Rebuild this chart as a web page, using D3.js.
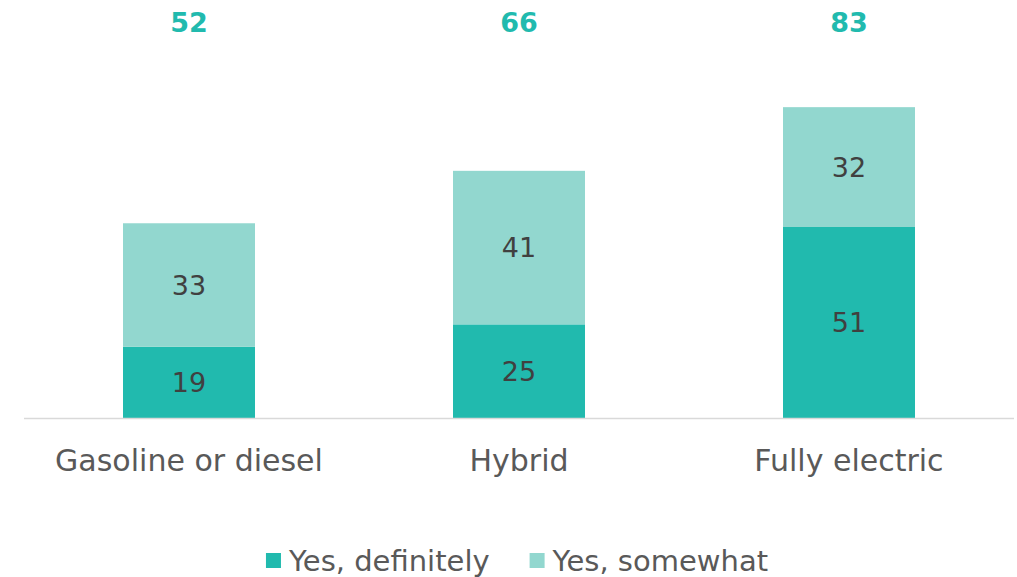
<!DOCTYPE html>
<html>
<head>
    <title>Stacked bars - D3.js</title>
    <script src="https://d3js.org/d3.v7.min.js"></script>
    <style>
        body { margin: 0; background: #fff; }
        .label-in { font-family: "DejaVu Sans", sans-serif; font-size: 27px; fill: #404040; text-anchor: middle; }
        .total { font-family: "DejaVu Sans", sans-serif; font-size: 27px; font-weight: bold; fill: #21baae; text-anchor: middle; }
        .cat { font-family: "DejaVu Sans", sans-serif; font-size: 30px; fill: #595959; text-anchor: middle; }
        .legend-text { font-family: "DejaVu Sans", sans-serif; font-size: 29px; fill: #595959; }
    </style>
</head>
<body>
<div id="chart"></div>
<script>
    // data
    const categories = ["Gasoline or diesel", "Hybrid", "Fully electric"];
    const seriesNames = ["Yes, definitely", "Yes, somewhat"];
    const definitely = [19, 25, 51];
    const somewhat = [33, 41, 32];
    const totals = [52, 66, 83];
    const colors = ["#21baae", "#92d7cf"];

    const W = 1017, H = 577;

    const svg = d3.select("#chart").append("svg")
        .attr("width", W)
        .attr("height", H);

    const x = d3.scaleBand()
        .domain(categories)
        .range([24, 1014])
        .paddingInner(0.6)
        .paddingOuter(0.3);

    const y = d3.scaleLinear()
        .domain([0, 100])
        .range([418, 43.5]);

    const rows = categories.map((c, i) => ({cat: c, "Yes, definitely": definitely[i], "Yes, somewhat": somewhat[i], total: totals[i]}));
    const stacked = d3.stack().keys(seriesNames)(rows);

    // bars
    const layers = svg.selectAll(".layer")
        .data(stacked)
        .enter().append("g")
        .attr("fill", (d, i) => colors[i]);

    layers.selectAll("rect")
        .data(d => d)
        .enter().append("rect")
        .attr("x", d => x(d.data.cat))
        .attr("y", d => y(d[1]))
        .attr("width", x.bandwidth())
        .attr("height", d => y(d[0]) - y(d[1]));

    layers.selectAll("text")
        .data(d => d)
        .enter().append("text")
        .attr("class", "label-in")
        .attr("x", d => x(d.data.cat) + x.bandwidth() / 2)
        .attr("y", d => (y(d[0]) + y(d[1])) / 2)
        .attr("dy", "0.36em")
        .text(d => d[1] - d[0]);

    // baseline
    svg.append("line")
        .attr("x1", 24).attr("x2", 1014)
        .attr("y1", y(0) + 0.5).attr("y2", y(0) + 0.5)
        .attr("stroke", "#d9d9d9")
        .attr("stroke-width", 1.5);

    // totals on top
    svg.selectAll(".total")
        .data(rows)
        .enter().append("text")
        .attr("class", "total")
        .attr("x", d => x(d.cat) + x.bandwidth() / 2)
        .attr("y", 22)
        .attr("dy", "0.36em")
        .text(d => d.total);

    // category labels
    svg.selectAll(".cat")
        .data(categories)
        .enter().append("text")
        .attr("class", "cat")
        .attr("x", d => x(d) + x.bandwidth() / 2)
        .attr("y", 460)
        .attr("dy", "0.36em")
        .text(d => d);

    // legend, centred under the plot
    const legend = svg.append("g");
    let lx = 0;
    seriesNames.forEach((name, i) => {
        const item = legend.append("g").attr("transform", `translate(${lx},0)`);
        item.append("rect")
            .attr("width", 15).attr("height", 15)
            .attr("fill", colors[i]);
        const t = item.append("text")
            .attr("class", "legend-text")
            .attr("x", 23)
            .attr("y", 8)
            .attr("dy", "0.36em")
            .text(name);
        lx += 23 + t.node().getComputedTextLength() + 40;
    });
    const legendW = lx - 40;
    legend.attr("transform", `translate(${517 - legendW / 2},553)`);
</script>
</body>
</html>
